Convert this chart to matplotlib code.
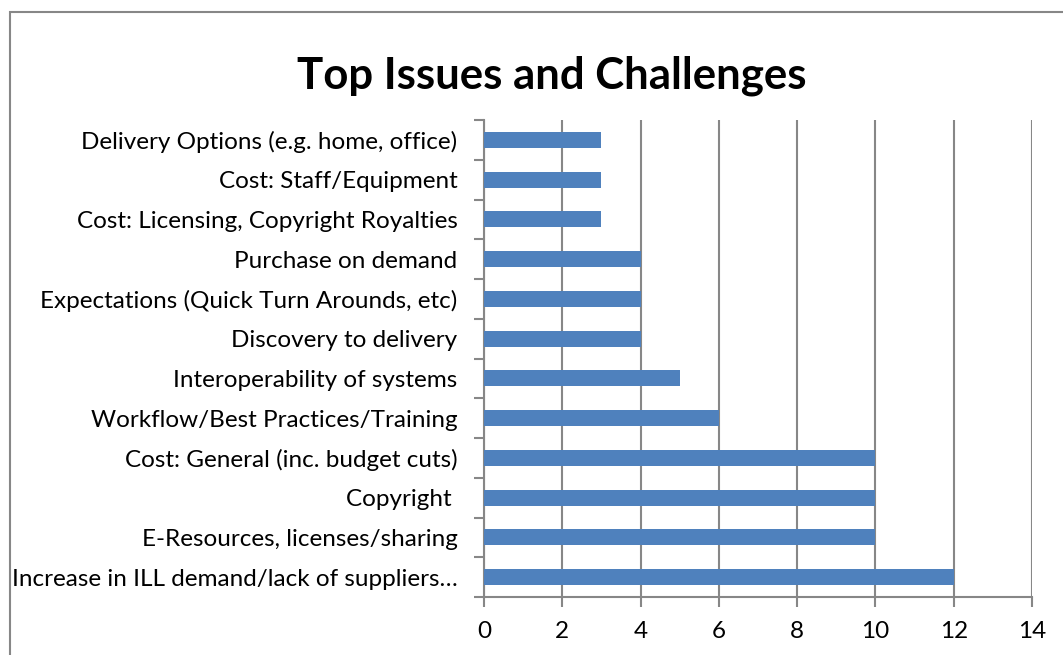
import numpy as np
import matplotlib.pyplot as plt
from matplotlib.patches import Rectangle

categories = [
    "Increase in ILL demand/lack of suppliers\u2026",
    "E-Resources, licenses/sharing",
    "Copyright ",
    "Cost: General (inc. budget cuts)",
    "Workflow/Best Practices/Training",
    "Interoperability of systems",
    "Discovery to delivery",
    "Expectations (Quick Turn Arounds, etc)",
    "Purchase on demand",
    "Cost: Licensing, Copyright Royalties",
    "Cost: Staff/Equipment",
    "Delivery Options (e.g. home, office)",
]
counts = [12, 10, 10, 10, 6, 5, 4, 4, 4, 3, 3, 3]
x_ticks = [0, 2, 4, 6, 8, 10, 12, 14]

plt.rcParams['font.family'] = ['Lato', 'DejaVu Sans']
grey = '#878787'

fig = plt.figure(figsize=(10.63, 6.55), dpi=100)
ax = fig.add_axes([0.4553, 0.0885, 0.5155, 0.7283])

y = np.arange(len(categories))
ax.barh(y, counts, height=0.4, color='#4F81BD', zorder=3)

ax.set_xlim(0, 14)
ax.set_ylim(-0.5, len(categories) - 0.5)
ax.set_xticks(x_ticks)
ax.set_xticklabels([str(t) for t in x_ticks], fontsize=17.5)
ax.set_yticks(y)
ax.set_yticklabels(categories, fontsize=17.5)
ax.set_yticks(np.arange(-0.5, len(categories), 1), minor=True)
ax.tick_params(axis='y', which='major', length=0, pad=19)
ax.tick_params(axis='y', which='minor', length=7, width=1.5, color=grey, direction='out')
ax.tick_params(axis='x', length=7, width=1.5, color=grey, direction='out', pad=10)

ax.grid(axis='x', color=grey, linewidth=1.5, zorder=0)
for s in ['top', 'right']:
    ax.spines[s].set_visible(False)
for s in ['left', 'bottom']:
    ax.spines[s].set_color(grey)
    ax.spines[s].set_linewidth(1.5)

fig.text(0.519, 0.885, "Top Issues and Challenges", ha='center', va='center',
         fontsize=31.5, fontweight='bold')

fig.add_artist(Rectangle((10 / 1063, -0.1), 1.2, 1.1 - 12 / 655,
                         transform=fig.transFigure, fill=False,
                         edgecolor=grey, linewidth=1.5))

fig.savefig('out.png', dpi=100)
